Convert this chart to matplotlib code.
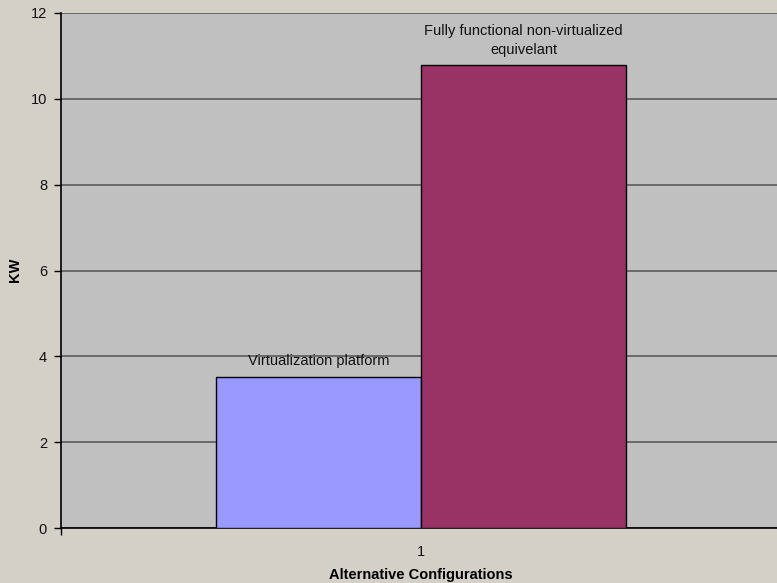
import matplotlib.pyplot as plt

plt.rcParams['font.family'] = ['Liberation Sans', 'DejaVu Sans']

# data
series = ['Virtualization platform', 'Fully functional non-virtualized\nequivelant']
values = [3.52, 10.78]
colors = ['#9999FF', '#993366']
category = '1'

BG = '#D4D0C8'
PLOT_BG = '#C0C0C0'

fig = plt.figure(figsize=(7.77, 5.83), dpi=100, facecolor=BG)
# plot area runs slightly past the right edge, as in the original
ax = fig.add_axes([61 / 777, 55 / 583, 720 / 777, 515 / 583])
ax.set_facecolor(PLOT_BG)

width = 0.285
offsets = [-width / 2, width / 2]
for name, v, c, off in zip(series, values, colors, offsets):
    ax.bar(1 + off, v, width=width, color=c, edgecolor='black', linewidth=1, zorder=3)
    ax.text(1 + off, v + 0.2, name, ha='center', va='bottom', fontsize=10.5,
            color='#111111', linespacing=1.45, zorder=4)

ax.set_xlim(0.5, 1.5)
ax.set_ylim(0, 12)
ax.set_yticks(range(0, 13, 2))
ax.set_xticks([0.5, 1.5])
ax.set_xticklabels(['', ''])
ax.tick_params(axis='x', length=5, width=1, direction='out')
ax.tick_params(axis='y', length=5, width=1, direction='out', labelsize=10.5, pad=5,
               labelcolor='#111111')
ax.text(1, -0.4, category, ha='center', va='top', fontsize=10.5, color='#111111',
        transform=ax.transData)

ax.yaxis.grid(True, color='#5a5a5a', linewidth=1.2, zorder=0)
ax.set_axisbelow(True)
for s in ['top', 'right']:
    ax.spines[s].set_visible(False)
ax.spines['left'].set_linewidth(1.2)
ax.spines['bottom'].set_linewidth(1.2)

fig.text(15 / 777, 1 - 270 / 583, 'KW', rotation=90, ha='center', va='center',
         fontsize=10.5, fontweight='bold')
fig.text(421 / 777, 1 - 575 / 583, 'Alternative Configurations', ha='center',
         va='center', fontsize=10.5, fontweight='bold')

fig.savefig('out.png', dpi=100, facecolor=BG)
